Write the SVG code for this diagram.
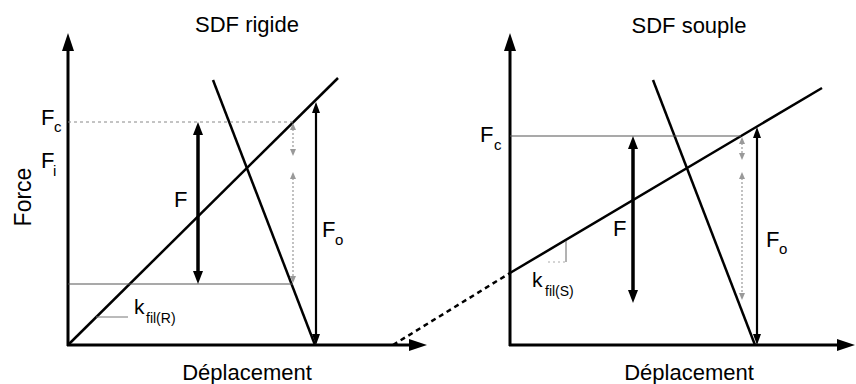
<svg xmlns="http://www.w3.org/2000/svg" width="856" height="384" viewBox="0 0 856 384">
<defs>
<style>
text{font-family:"Liberation Sans",Arial,sans-serif;fill:#000}
.lbl{font-size:22px}
.sub{font-size:15px}
.k{font-size:21px}
.ksub{font-size:14px}
.axis{stroke:#000;stroke-width:3;fill:none;marker-end:url(#axhead)}
.curve{stroke:#000;stroke-width:2.5;fill:none}
.thick{stroke:#000;stroke-width:3.5;marker-start:url(#thhead);marker-end:url(#thhead)}
.fo{stroke:#000;stroke-width:2.2;marker-start:url(#fohead);marker-end:url(#fohead)}
.gray{stroke:#999;stroke-width:1.2;stroke-dasharray:2 2;marker-start:url(#grhead);marker-end:url(#grhead)}
.hline{stroke:#555;stroke-width:1.1}
.hdot{stroke:#888;stroke-width:1;stroke-dasharray:3 3}
</style>
<marker id="axhead" viewBox="0 0 18 12" refX="1" refY="6" markerWidth="18" markerHeight="12" markerUnits="userSpaceOnUse" orient="auto"><path d="M0,0 L18,6 L0,12 z" fill="#000"/></marker>
<marker id="thhead" viewBox="0 0 13 10" refX="3" refY="5" markerWidth="13" markerHeight="10" markerUnits="userSpaceOnUse" orient="auto-start-reverse"><path d="M0,0 L13,5 L0,10 z" fill="#000"/></marker>
<marker id="fohead" viewBox="0 0 11 8" refX="2" refY="4" markerWidth="11" markerHeight="8" markerUnits="userSpaceOnUse" orient="auto-start-reverse"><path d="M0,0 L11,4 L0,8 z" fill="#000"/></marker>
<marker id="grhead" viewBox="0 0 7 6" refX="1" refY="3" markerWidth="7" markerHeight="6" markerUnits="userSpaceOnUse" orient="auto-start-reverse"><path d="M0,0 L7,3 L0,6 z" fill="#999"/></marker>
</defs>

<g id="left-panel">
  <text id="title-left" class="lbl" x="247" y="32" text-anchor="middle">SDF rigide</text>
  <g id="left-axes">
    <line class="axis" x1="68" y1="346" x2="68" y2="50"/>
    <line class="axis" x1="67" y1="345" x2="410" y2="345"/>
  </g>
  <text id="force-label" transform="translate(31,197) rotate(-90)" text-anchor="middle" style="font-size:23px">Force</text>
  <text id="xlabel-left" class="lbl" x="247" y="380" text-anchor="middle">Déplacement</text>
  <g id="left-lines">
    <line class="curve" x1="68" y1="345" x2="338" y2="78"/>
    <line class="curve" x1="213" y1="80" x2="315" y2="345"/>
    <line class="hdot" x1="68" y1="122" x2="293" y2="122"/>
    <line class="hline" x1="68" y1="284" x2="293" y2="284"/>
    <line stroke="#777" stroke-width="1" x1="96" y1="317" x2="128" y2="317"/>
  </g>
  <g id="left-arrows">
    <line class="thick" x1="198" y1="132" x2="198" y2="274"/>
    <line class="fo" x1="316" y1="111" x2="316" y2="336"/>
    <line class="gray" x1="293" y1="129" x2="293" y2="150"/>
    <line class="gray" x1="293" y1="178" x2="293" y2="277"/>
  </g>
  <g id="left-labels">
    <text class="lbl" x="41" y="125">F<tspan class="sub" x="54" y="132">c</tspan></text>
    <text class="lbl" x="41" y="168">F<tspan class="sub" x="53" y="176">i</tspan></text>
    <text class="lbl" x="174" y="207">F</text>
    <text class="lbl" x="322" y="237">F<tspan class="sub" x="335" y="245">o</tspan></text>
    <text class="k" x="134" y="314">k<tspan class="ksub" x="146" y="323">fil(R)</tspan></text>
  </g>
</g>

<g id="connector">
  <line stroke="#000" stroke-width="2.5" stroke-dasharray="5 4" x1="393" y1="345" x2="510" y2="273"/>
</g>

<g id="right-panel">
  <text id="title-right" class="lbl" x="689" y="33" text-anchor="middle">SDF souple</text>
  <g id="right-axes">
    <line class="axis" x1="510" y1="346" x2="510" y2="50"/>
    <line class="axis" x1="509" y1="345" x2="838" y2="345"/>
  </g>
  <text id="xlabel-right" class="lbl" x="689" y="380" text-anchor="middle">Déplacement</text>
  <g id="right-lines">
    <line class="curve" x1="510" y1="273" x2="822" y2="88"/>
    <line class="curve" x1="653" y1="80" x2="755" y2="345"/>
    <line class="hline" x1="510" y1="136" x2="741" y2="136"/>
    <line stroke="#666" stroke-width="1" x1="566" y1="241" x2="566" y2="262"/>
    <line stroke="#aaa" stroke-width="1" stroke-dasharray="2 3" x1="548" y1="262" x2="566" y2="262"/>
  </g>
  <g id="right-arrows">
    <line class="thick" x1="633" y1="146" x2="633" y2="293"/>
    <line class="fo" x1="757" y1="136" x2="757" y2="336"/>
    <line class="gray" x1="742" y1="143" x2="742" y2="154"/>
    <line class="gray" x1="742" y1="178" x2="742" y2="294"/>
  </g>
  <g id="right-labels">
    <text class="lbl" x="480" y="142">F<tspan class="sub" x="494" y="150">c</tspan></text>
    <text class="lbl" x="613" y="236">F</text>
    <text class="lbl" x="766" y="247">F<tspan class="sub" x="779" y="254">o</tspan></text>
    <text class="k" x="532" y="287">k<tspan class="ksub" x="545" y="296">fil(S)</tspan></text>
  </g>
</g>
</svg>
